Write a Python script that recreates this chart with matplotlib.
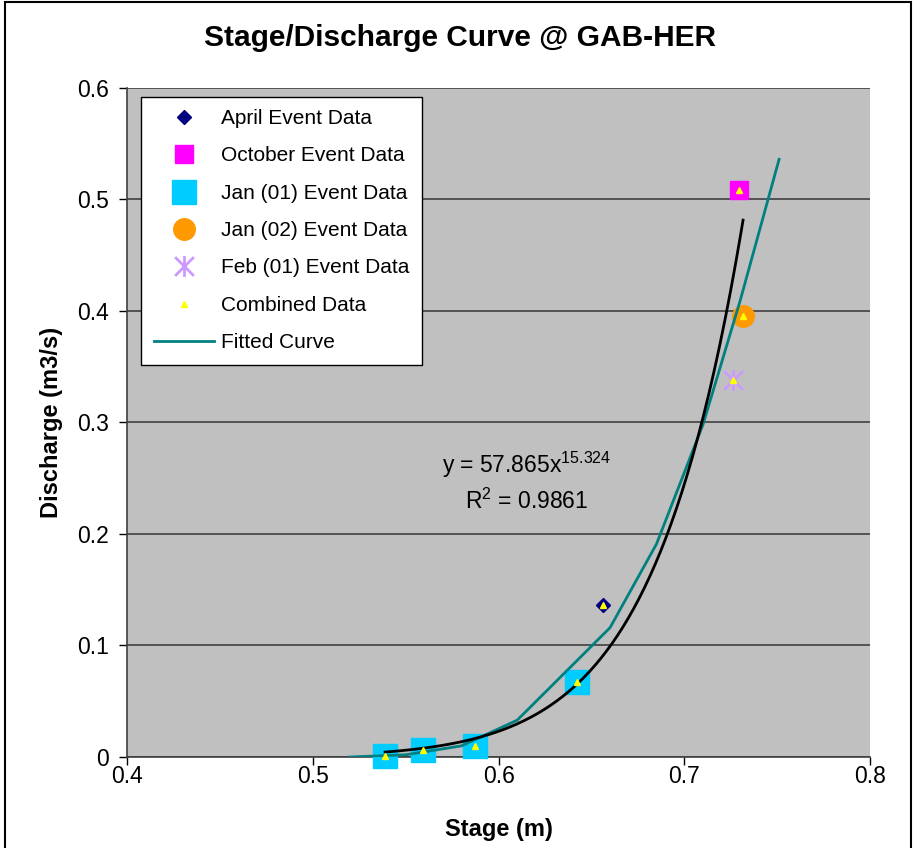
import numpy as np
import matplotlib
matplotlib.use('Agg')
import matplotlib.pyplot as plt
from matplotlib.path import Path
from matplotlib.patches import Rectangle
from matplotlib.ticker import FuncFormatter

plt.rcParams['font.family'] = ['Liberation Sans', 'DejaVu Sans']
plt.rcParams['mathtext.fontset'] = 'custom'
plt.rcParams['mathtext.rm'] = 'Liberation Sans'
plt.rcParams['mathtext.it'] = 'Liberation Sans'

# event data (stage m, discharge m3/s)
april_x = [0.6563]
april_y = [0.1363]
oct_x = [0.7294]
oct_y = [0.5088]
jan01_x = [0.5389, 0.5594, 0.5873, 0.6423]
jan01_y = [0.0012, 0.0065, 0.0101, 0.0674]
jan02_x = [0.7316]
jan02_y = [0.3955]
feb01_x = [0.7262]
feb01_y = [0.3381]

combined_x = april_x + oct_x + jan01_x + jan02_x + feb01_x
combined_y = april_y + oct_y + jan01_y + jan02_y + feb01_y

# fitted curve
fit_x = [0.52, 0.55, 0.58, 0.61, 0.66, 0.685, 0.71, 0.73, 0.751]
fit_y = [0.0, 0.002, 0.010, 0.033, 0.116, 0.191, 0.298, 0.409, 0.536]

# power trendline coefficients as printed on the chart
trend_a = 57.865
trend_b = 15.324
trend_r2 = 0.9861

fig = plt.figure(figsize=(9.14, 8.48), dpi=100)
ax = fig.add_axes([0.139, 0.1073, 0.813, 0.789])
ax.set_facecolor('#C0C0C0')

ax.set_xlim(0.4, 0.8)
ax.set_ylim(0, 0.6)
ax.set_xticks(np.arange(0.4, 0.81, 0.1))
ax.set_yticks(np.arange(0, 0.61, 0.1))
fmt = FuncFormatter(lambda v, p: '%g' % round(v, 2))
ax.xaxis.set_major_formatter(fmt)
ax.yaxis.set_major_formatter(fmt)
ax.tick_params(labelsize=16.5, length=6, width=1, direction='out')
ax.tick_params(axis='x', pad=0)
ax.tick_params(axis='y', pad=7)
ax.yaxis.grid(True, color='#404040', lw=1.2)
ax.set_axisbelow(True)
for s in ['top', 'right']:
    ax.spines[s].set_visible(False)
for s in ['left', 'bottom']:
    ax.spines[s].set_color('#404040')
    ax.spines[s].set_linewidth(1.2)

# asterisk marker (vertical bar + X)
star = Path([(0, -1), (0, 1), (-0.9, -0.9), (0.9, 0.9), (-0.9, 0.9), (0.9, -0.9)],
            [Path.MOVETO, Path.LINETO, Path.MOVETO, Path.LINETO, Path.MOVETO, Path.LINETO])

ax.plot(april_x, april_y, 'D', color='#000080', ms=7.5, ls='none', label='April Event Data',
        zorder=3, clip_on=False)
ax.plot(oct_x, oct_y, 's', color='#FF00FF', ms=12.5, ls='none', label='October Event Data',
        zorder=3, clip_on=False)
ax.plot(jan01_x, jan01_y, 's', color='#00CCFF', ms=17, ls='none', label='Jan (01) Event Data',
        zorder=3, clip_on=False)
ax.plot(jan02_x, jan02_y, 'o', color='#FF9900', ms=15.5, ls='none', label='Jan (02) Event Data',
        zorder=3, clip_on=False)
ax.plot(feb01_x, feb01_y, marker=star, color='#CC99FF', mec='#CC99FF', ms=15, mew=2,
        ls='none', label='Feb (01) Event Data', zorder=3, clip_on=False)

ax.plot(fit_x, fit_y, color='#008080', lw=2, label='Fitted Curve', zorder=4)

tx = np.linspace(min(combined_x), max(combined_x), 200)
ax.plot(tx, trend_a * tx ** trend_b, color='black', lw=2, zorder=5)

ax.plot(combined_x, combined_y, '^', color='#FFFF00', ms=4.5, ls='none', label='Combined Data',
        zorder=6, clip_on=False)

ax.text(0.615, 0.262, 'y = %.3fx$^{%.3f}$' % (trend_a, trend_b), fontsize=16.5, ha='center', va='center')
ax.text(0.615, 0.229, 'R$^{2}$ = %.4f' % trend_r2, fontsize=16.5, ha='center', va='center')

h, l = ax.get_legend_handles_labels()
order = ['April Event Data', 'October Event Data', 'Jan (01) Event Data', 'Jan (02) Event Data',
         'Feb (01) Event Data', 'Combined Data', 'Fitted Curve']
hd = dict(zip(l, h))
leg = ax.legend([hd[k] for k in order], order, loc='upper left', bbox_to_anchor=(0.019, 0.987),
                borderaxespad=0, fontsize=15, frameon=True, fancybox=False, framealpha=1,
                edgecolor='black', labelspacing=0.88, handlelength=2.9, handletextpad=0.35,
                borderpad=0.6)
leg.get_frame().set_linewidth(1)
leg.set_zorder(10)

fig.text(0.503, 1 - 38 / 848, 'Stage/Discharge Curve @ GAB-HER', fontsize=21.5,
         fontweight='bold', ha='center', va='center')
ax.set_xlabel('Stage (m)', fontsize=17, fontweight='bold', labelpad=21)
ax.set_ylabel('Discharge (m3/s)', fontsize=17, fontweight='bold', labelpad=10)

fig.patches.append(Rectangle((5 / 914, -0.01), 906 / 914, 1.008, transform=fig.transFigure,
                             fill=False, edgecolor='black', lw=1.5))

fig.savefig('out.png', dpi=100)
